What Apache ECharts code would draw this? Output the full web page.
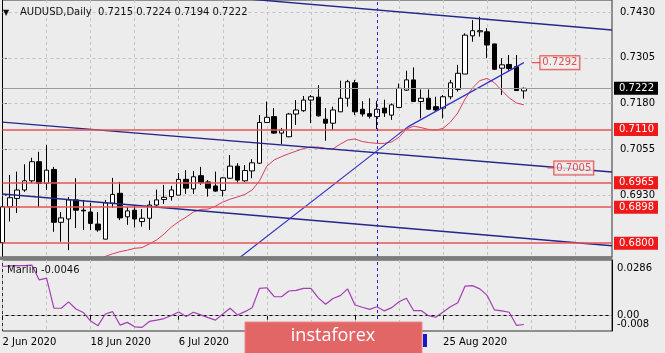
<!DOCTYPE html>
<html>
<head>
<meta charset="utf-8">
<script src="https://cdn.jsdelivr.net/npm/echarts@6/dist/echarts.min.js"></script>
<style>
  html, body { margin: 0; padding: 0; background: #ececec; }
  #chart { width: 665px; height: 353px; }
</style>
</head>
<body>
<div id="chart"></div>
<script>
// trading days shown on the chart (last 12 are empty future slots)
const DATES = [
  '2 Jun 2020', '3 Jun 2020', '4 Jun 2020', '5 Jun 2020', '8 Jun 2020', '9 Jun 2020', '10 Jun 2020', '11 Jun 2020', '12 Jun 2020',
  '15 Jun 2020', '16 Jun 2020', '17 Jun 2020', '18 Jun 2020', '19 Jun 2020', '22 Jun 2020', '23 Jun 2020', '24 Jun 2020',
  '25 Jun 2020', '26 Jun 2020', '29 Jun 2020', '30 Jun 2020', '1 Jul 2020', '2 Jul 2020', '3 Jul 2020', '6 Jul 2020',
  '7 Jul 2020', '8 Jul 2020', '9 Jul 2020', '10 Jul 2020', '13 Jul 2020', '14 Jul 2020', '15 Jul 2020', '16 Jul 2020',
  '17 Jul 2020', '20 Jul 2020', '21 Jul 2020', '22 Jul 2020', '23 Jul 2020', '24 Jul 2020', '27 Jul 2020', '28 Jul 2020',
  '29 Jul 2020', '30 Jul 2020', '31 Jul 2020', '3 Aug 2020', '4 Aug 2020', '5 Aug 2020', '6 Aug 2020', '7 Aug 2020',
  '10 Aug 2020', '11 Aug 2020', '12 Aug 2020', '13 Aug 2020', '14 Aug 2020', '17 Aug 2020', '18 Aug 2020', '19 Aug 2020',
  '20 Aug 2020', '21 Aug 2020', '24 Aug 2020', '25 Aug 2020', '26 Aug 2020', '27 Aug 2020', '28 Aug 2020', '31 Aug 2020',
  '1 Sep 2020', '2 Sep 2020', '3 Sep 2020', '4 Sep 2020', '7 Sep 2020', '8 Sep 2020', '9 Sep 2020',
  '10 Sep 2020', '11 Sep 2020', '14 Sep 2020', '15 Sep 2020', '16 Sep 2020', '17 Sep 2020', '18 Sep 2020',
  '21 Sep 2020', '22 Sep 2020', '23 Sep 2020', '24 Sep 2020', '25 Sep 2020'
];
const BARS = 72;

const OPEN = [0.6801,0.6899,0.6922,0.6945,0.6970,0.7022,0.6963,0.7001,0.6857,0.6866,
  0.6918,0.6890,0.6885,0.6852,0.6811,0.6909,0.6936,0.6872,0.6890,0.6859,
  0.6868,0.6904,0.6919,0.6927,0.6931,0.6974,0.6948,0.6984,0.6967,0.6956,
  0.6944,0.6977,0.7010,0.6970,0.6997,0.7018,0.7129,0.7145,0.7100,0.7090,
  0.7152,0.7161,0.7190,0.7198,0.7138,0.7127,0.7158,0.7195,0.7237,0.7165,
  0.7153,0.7145,0.7168,0.7149,0.7170,0.7217,0.7245,0.7186,0.7195,0.7172,
  0.7168,0.7199,0.7219,0.7261,0.7365,0.7376,0.7376,0.7343,0.7277,0.7287,
  0.7281,0.7215];
const HIGH = [0.6904,0.6986,0.6995,0.7015,0.7033,0.7049,0.7068,0.7008,0.6885,0.6926,
  0.6977,0.6918,0.6910,0.6885,0.6918,0.6978,0.6967,0.6899,0.6903,0.6893,
  0.6916,0.6946,0.6959,0.6956,0.6991,0.6999,0.6997,0.7008,0.6972,0.6995,
  0.6980,0.7040,0.7018,0.7013,0.7029,0.7149,0.7186,0.7168,0.7114,0.7155,
  0.7190,0.7201,0.7204,0.7231,0.7168,0.7172,0.7243,0.7245,0.7245,0.7187,
  0.7195,0.7188,0.7191,0.7181,0.7235,0.7270,0.7279,0.7219,0.7219,0.7199,
  0.7204,0.7245,0.7286,0.7372,0.7408,0.7417,0.7386,0.7343,0.7304,0.7313,
  0.7313,0.7224];
const LOW = [0.6776,0.6859,0.6882,0.6940,0.6964,0.6899,0.6945,0.6831,0.6804,0.6781,
  0.6841,0.6836,0.6836,0.6831,0.6811,0.6896,0.6863,0.6850,0.6843,0.6845,
  0.6836,0.6897,0.6907,0.6916,0.6931,0.6934,0.6934,0.6959,0.6927,0.6940,
  0.6927,0.6975,0.6963,0.6966,0.6977,0.7016,0.7128,0.7098,0.7070,0.7089,
  0.7122,0.7158,0.7127,0.7145,0.7079,0.7108,0.7158,0.7172,0.7149,0.7145,
  0.7140,0.7111,0.7144,0.7136,0.7168,0.7215,0.7185,0.7140,0.7163,0.7158,
  0.7140,0.7192,0.7213,0.7261,0.7349,0.7363,0.7304,0.7272,0.7204,0.7269,
  0.7215,0.7194];
const CLOSE = [0.6899,0.6924,0.6945,0.6970,0.7022,0.6963,0.6999,0.6857,0.6869,0.6918,
  0.6890,0.6888,0.6854,0.6836,0.6910,0.6933,0.6869,0.6888,0.6866,0.6868,
  0.6904,0.6918,0.6925,0.6945,0.6974,0.6950,0.6981,0.6965,0.6950,0.6942,
  0.6978,0.7010,0.6972,0.6998,0.7019,0.7129,0.7143,0.7100,0.7108,0.7152,
  0.7163,0.7190,0.7199,0.7147,0.7127,0.7163,0.7195,0.7240,0.7158,0.7152,
  0.7146,0.7165,0.7155,0.7177,0.7222,0.7245,0.7186,0.7195,0.7165,0.7163,
  0.7199,0.7237,0.7263,0.7367,0.7379,0.7379,0.7340,0.7274,0.7286,0.7276,
  0.7216,0.7222];

// red moving average
const MA = [null,null,null,null,null,null,null,null,null,null,null,null,
  0.6749,0.6756,0.6764,0.6771,0.6777,0.6781,0.6786,0.6788,0.6798,0.6809,
  0.6825,0.6844,0.6859,0.6871,0.6885,0.6892,0.6893,0.6901,0.6912,0.6920,
  0.6926,0.6933,0.6945,0.6970,0.7010,0.7027,0.7036,0.7044,0.7051,0.7058,
  0.7062,0.7062,0.7058,0.7057,0.7070,0.7081,0.7084,0.7077,0.7074,0.7072,
  0.7072,0.7076,0.7089,0.7111,0.7119,0.7115,0.7110,0.7108,0.7113,0.7130,
  0.7155,0.7193,0.7223,0.7243,0.7249,0.7237,0.7216,0.7196,0.7182,0.7177];

// Marlin oscillator (lower window)
const MARLIN = [0.0257,0.0260,0.0262,0.0262,0.0265,0.0187,0.0196,0.0040,0.0039,0.0072,
  0.0035,0.0017,-0.0028,-0.0052,0.0009,0.0021,-0.0049,-0.0035,-0.0058,-0.0061,
  -0.0030,-0.0023,-0.0015,0.0001,0.0019,-0.0004,0.0018,0.0004,-0.0010,-0.0023,
  0.0009,0.0039,0.0004,0.0021,0.0042,0.0143,0.0146,0.0099,0.0099,0.0129,
  0.0132,0.0143,0.0143,0.0093,0.0060,0.0090,0.0105,0.0140,0.0056,0.0044,
  0.0033,0.0047,0.0025,0.0042,0.0073,0.0091,0.0026,0.0027,0.0000,-0.0008,
  0.0019,0.0047,0.0068,0.0155,0.0157,0.0140,0.0106,0.0030,0.0025,0.0018,
  -0.0051,-0.0046];

const PRICE_TICKS = [0.6930, 0.7055, 0.7180, 0.7305, 0.7430];
const MARLIN_TICKS = [0.0286, -0.00795];
const LEVELS = [0.7110, 0.6965, 0.6898, 0.6800];
const VLINE_BAR = 51;

// drawn trend lines, [bar index, price]
const TREND_TOP = [[33.7, 0.7465], [83, 0.7381]];
const TREND_MID = [[0, 0.7130], [83, 0.6994]];
const TREND_LOW = [[0, 0.6934], [83, 0.6793]];
const TREND_UP = [[30, 0.6725], [55.2, 0.7117], [71, 0.7292]];
const TAGS = [[75.9, 0.7292, '0.7292'], [77.8, 0.7005, '0.7005']];
const TAG_DASHES = [[[72.1, 0.7292], [73.4, 0.7292]], [[74.2, 0.7005], [75.3, 0.7005]]];

const FONT = '"DejaVu Sans", sans-serif';
const NAVY = '#26268a';
const RED = '#e65454';
const GRIDC = '#c4c4c4';

const chart = echarts.init(document.getElementById('chart'));

const gridEvery = i => i % 6 === 0;
const labelEvery = i => i % 12 === 0 && i < BARS;

const level = (v, color, bg) => ({
  yAxis: v,
  lineStyle: { color: color, width: color === RED ? 1.6 : 1, type: 'solid' },
  label: {
    show: true, position: 'end', distance: 2, formatter: v.toFixed(4),
    backgroundColor: bg, color: '#fff', padding: [2, 4, 1, 5],
    fontSize: 10, fontFamily: FONT
  }
});

const last = BARS - 1;
const title = 'AUDUSD,Daily  ' + [OPEN[last], HIGH[last], LOW[last], CLOSE[last]].map(v => v.toFixed(4)).join(' ');

const option = {
  backgroundColor: '#ececec',
  animation: false,
  textStyle: { fontFamily: FONT },
  grid: [
    { left: 2.5, top: 0, width: 609.5, height: 257, show: true, borderColor: '#333', borderWidth: 1,
      containLabel: false, outerBoundsMode: 'none' },
    { left: 2.5, top: 260, width: 609.5, height: 71, show: true, borderColor: '#333', borderWidth: 1,
      containLabel: false, outerBoundsMode: 'none' }
  ],
  xAxis: [
    { type: 'category', gridIndex: 0, data: DATES, boundaryGap: false,
      axisLine: { show: false }, axisTick: { show: false }, axisLabel: { show: false },
      splitLine: { show: true, interval: gridEvery, lineStyle: { color: GRIDC, type: [3, 3] } } },
    { type: 'category', gridIndex: 1, data: DATES, boundaryGap: false,
      axisLine: { show: true, lineStyle: { color: '#000' } },
      axisTick: { show: true, interval: labelEvery, length: 4, lineStyle: { color: '#000' } },
      axisLabel: { interval: labelEvery, align: 'left', margin: 6, color: '#000', fontSize: 10, fontFamily: FONT },
      splitLine: { show: true, interval: gridEvery, lineStyle: { color: GRIDC, type: [3, 3] } } },
    { type: 'value', gridIndex: 0, min: 0, max: DATES.length - 1, show: false }
  ],
  yAxis: [
    { type: 'value', gridIndex: 0, position: 'right', min: 0.67624, max: 0.74627,
      axisLine: { show: true, lineStyle: { color: '#000' } },
      axisTick: { show: true, length: 4, customValues: PRICE_TICKS, lineStyle: { color: '#000' } },
      axisLabel: { customValues: PRICE_TICKS, formatter: v => v.toFixed(4), margin: 8,
        color: '#000', fontSize: 10, fontFamily: FONT },
      splitLine: { show: false } },
    { type: 'value', gridIndex: 1, position: 'right', min: -0.008, max: 0.0291,
      axisLine: { show: true, lineStyle: { color: '#000' } },
      axisTick: { show: false, customValues: MARLIN_TICKS },
      axisLabel: {
        customValues: MARLIN_TICKS, margin: 5, showMinLabel: true, showMaxLabel: true,
        formatter: v => v > 0.01 ? '{t|0.0286}' : '{b|-0.008}',
        rich: {
          t: { padding: [14, 0, 0, 0], color: '#000', fontSize: 10, fontFamily: FONT },
          b: { padding: [0, 0, 13, 0], color: '#000', fontSize: 10, fontFamily: FONT }
        }
      },
      splitLine: { show: false } }
  ],
  series: [
    {
      name: 'MA', type: 'line', xAxisIndex: 0, yAxisIndex: 0, data: MA, symbol: 'none',
      lineStyle: { color: '#d4405e', width: 1 }, z: 3,
      markLine: {
        silent: true, symbol: 'none', z: 1, precision: 6, label: { show: false },
        lineStyle: { color: GRIDC, type: [3, 3], width: 1 },
        data: PRICE_TICKS.map(v => ({ yAxis: v }))
      }
    },
    {
      name: 'AUDUSD', type: 'candlestick', xAxisIndex: 0, yAxisIndex: 0, barWidth: 5,
      data: OPEN.map((o, i) => [o, CLOSE[i], LOW[i], HIGH[i]]),
      itemStyle: { color: '#fff', color0: '#000', borderColor: '#000', borderColor0: '#000', borderWidth: 1 },
      markLine: {
        silent: true, symbol: 'none', precision: 6,
        data: LEVELS.map(v => level(v, RED, '#f01818'))
          .concat([level(CLOSE[last], '#9a9a9a', '#000')])
          .concat([{ xAxis: DATES[VLINE_BAR], lineStyle: { color: '#2828c8', type: [3, 3], width: 1 }, label: { show: false } }])
      }
    },
    { type: 'line', xAxisIndex: 2, yAxisIndex: 0, data: TREND_TOP, symbol: 'none', lineStyle: { color: NAVY, width: 1.4 }, z: 4 },
    { type: 'line', xAxisIndex: 2, yAxisIndex: 0, data: TREND_MID, symbol: 'none', lineStyle: { color: NAVY, width: 1.4 }, z: 4 },
    { type: 'line', xAxisIndex: 2, yAxisIndex: 0, data: TREND_LOW, symbol: 'none', lineStyle: { color: NAVY, width: 1.4 }, z: 4 },
    { type: 'line', xAxisIndex: 2, yAxisIndex: 0, data: TREND_UP, symbol: 'none', lineStyle: { color: '#3434c4', width: 1.2 }, z: 4 },
    { type: 'line', xAxisIndex: 2, yAxisIndex: 0, data: TAG_DASHES[0], symbol: 'none', lineStyle: { color: RED, width: 1.2 }, z: 4 },
    { type: 'line', xAxisIndex: 2, yAxisIndex: 0, data: TAG_DASHES[1], symbol: 'none', lineStyle: { color: RED, width: 1.2 }, z: 4 },
    {
      type: 'scatter', xAxisIndex: 2, yAxisIndex: 0, data: TAGS, symbolSize: 1,
      itemStyle: { color: 'transparent' }, z: 6,
      label: {
        show: true, position: 'inside', formatter: p => p.value[2],
        color: '#e02424', borderColor: '#e02424', borderWidth: 1, backgroundColor: '#efefef',
        padding: [2, 2, 1, 2], fontSize: 10, fontFamily: FONT
      }
    },
    {
      name: 'Marlin', type: 'line', xAxisIndex: 1, yAxisIndex: 1, data: MARLIN, symbol: 'none',
      lineStyle: { color: '#a43cb4', width: 1.2 },
      markLine: {
        silent: true, symbol: 'none', z: 1, precision: 6,
        data: [
          { yAxis: 0, lineStyle: { color: GRIDC, type: [3, 3], width: 1 },
            label: { show: true, position: 'end', distance: 5, formatter: '0.00', color: '#000',
              fontSize: 10, fontFamily: FONT, padding: [0, 0, 4, 0] } },
          { xAxis: DATES[VLINE_BAR], lineStyle: { color: '#2828c8', type: [3, 3], width: 1 }, label: { show: false } }
        ]
      }
    }
  ],
  graphic: [
    { type: 'rect', z: 100, shape: { x: 0, y: 256.5, width: 612.5, height: 3.5 }, style: { fill: '#7c7c7c' } },
    { type: 'text', z: 100, x: 3, y: 12.5, style: { text: '▼', fill: '#111', font: '8px "DejaVu Sans"', verticalAlign: 'middle' } },
    { type: 'text', z: 100, x: 20, y: 12.5, style: { text: title, fill: '#111', font: '10px "DejaVu Sans"', verticalAlign: 'middle' } },
    { type: 'text', z: 100, x: 7, y: 270, style: { text: 'Marlin ' + MARLIN[last].toFixed(4), fill: '#111', font: '10px "DejaVu Sans"', verticalAlign: 'middle' } },
    { type: 'rect', z: 100, shape: { x: 245, y: 322, width: 177, height: 32 }, style: { fill: '#e36666', stroke: '#ea8a8a', lineWidth: 1 } },
    { type: 'text', z: 101, x: 333, y: 336, style: { text: 'instaforex', fill: '#fff', font: '18px "Open Sans"', align: 'center', verticalAlign: 'middle' } },
    { type: 'rect', z: 100, shape: { x: 423, y: 334, width: 4, height: 13 }, style: { fill: '#1818c8' } }
  ]
};

chart.setOption(option);
</script>
</body>
</html>
